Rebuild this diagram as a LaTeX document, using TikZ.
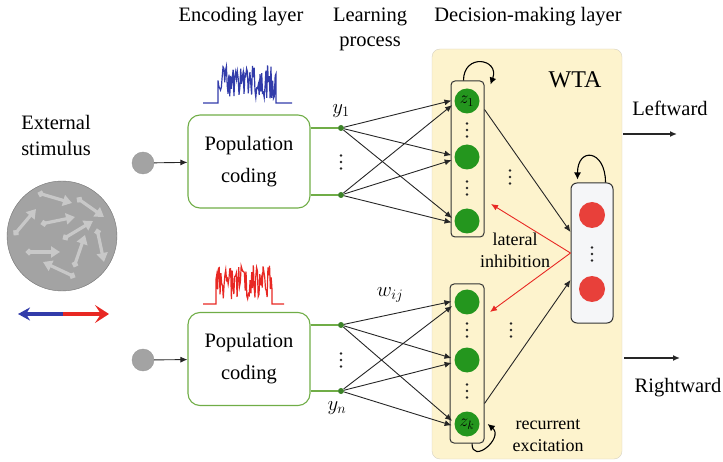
\documentclass[tikz,border=0pt]{standalone}
\usepackage{fontspec}
\setmainfont{Liberation Serif}
\usetikzlibrary{arrows.meta,positioning,calc}
\definecolor{codegreen}{RGB}{112,173,71}
\definecolor{tapgreen}{RGB}{60,130,40}
\definecolor{neurongreen}{RGB}{36,150,30}
\definecolor{neuronred}{RGB}{232,64,58}
\definecolor{wtafill}{RGB}{253,243,205}
\definecolor{wtaline}{RGB}{215,210,195}
\definecolor{outfill}{RGB}{245,246,248}
\definecolor{spikeblue}{RGB}{50,60,170}
\definecolor{spikered}{RGB}{232,40,35}
\definecolor{stimgray}{RGB}{163,163,163}
\definecolor{stimarrow}{RGB}{200,200,200}
\tikzset{dotcol/.pic={\fill[black!85] (0,6.5) circle (1.3) (0,0) circle (1.3) (0,-6.5) circle (1.3);}}

\begin{document}
\begin{tikzpicture}[
  x=1pt, y=1pt,
  font=\fontsize{20.5}{25}\selectfont,
  arrow/.style={-{Latex[length=7,width=6]}, line width=0.9, draw=black!85},
  feed/.style={arrow, shorten >=3},
  inhib/.style={-{Latex[length=7,width=6]}, line width=0.9, draw=spikered},
  loopy/.style={-{Latex[length=7,width=7]}, line width=1.1},
  coder/.style={draw=codegreen, line width=1.1, rounded corners=12, minimum width=122,
    minimum height=93, align=center, font=\fontsize{20.5}{32}\selectfont},
  unitcol/.style={draw=black!80, line width=1, rounded corners=4, minimum width=33},
  neuron/.style={circle, fill=neurongreen, minimum size=25, inner sep=0, font=\fontsize{18}{18}\selectfont},
  outneuron/.style={circle, fill=neuronred, minimum size=26, inner sep=0},
  tap/.style={circle, fill=tapgreen, minimum size=6, inner sep=0},
  input/.style={circle, fill=stimgray, draw=gray!80, minimum size=22, inner sep=0},
  stim/.style={{Circle[length=6,width=6]}-{Triangle[length=9,width=11]}, line width=3.2, draw=stimarrow},
  small/.style={align=center, font=\fontsize{18}{22}\selectfont}
]
\useasboundingbox (0,0) rectangle (723,461);

% headings
\node (enclabel) at (241,444) {Encoding layer};
\node[align=center] (learnlabel) at (370,432) {Learning\\process};
\node (declabel) at (528,444) {Decision-making layer};
\node[align=center, font=\fontsize{20.5}{26}\selectfont] (extlabel) at (56,326) {External\\stimulus};

% stimulus with moving dots
\node[circle, fill=stimgray, draw=gray!110, minimum size=110] (stimulus) at (62,225) {};
\draw[stim] (38,268) -- (72,258);
\draw[stim] (77,263) -- (104,244);
\draw[stim] (14,226) -- (36,252);
\draw[stim] (41,237) -- (75,244);
\draw[stim] (63,222) -- (93,240);
\draw[stim] (97,232) -- (104,199);
\draw[stim] (26,209) -- (60,209);
\draw[stim] (74,194) -- (85,226);
\draw[stim] (75,184) -- (43,199);

\coordinate (dirmid) at (63,147);
\coordinate (dirleft) at (18,147);
\coordinate (dirright) at (109,147);
\draw[-{Stealth[length=12,width=13]}, line width=3.5, spikeblue] (dirmid) -- (dirleft);
\draw[-{Stealth[length=14,width=18,inset=6]}, line width=3.8, spikered] (dirmid) -- (dirright);

% encoding layer
\node[input] (inup) at (143,298) {};
\node[input] (indown) at (143,101) {};
\node[coder] (codeup) at (249,299.5) {Population\\coding};
\node[coder] (codedown) at (249,102) {Population\\coding};
\draw[arrow] (inup) -- (codeup);
\draw[arrow] (indown) -- (codedown);

\pgfmathsetseed{11}
\draw[spikeblue, line width=1.2] (203,358) -- (218,358)
  -- plot[domain=218:276, samples=70] (\x, {380+18*rand}) -- (276,358) -- (292,358);
\draw[spikered, line width=1.2] (203,157) -- (216,157)
  -- plot[domain=216:272, samples=70] (\x, {179+17*rand}) -- (272,157) -- (284,157);

\node[tap] (ya) at (341,333) {};
\node[tap] (yb) at (341,266) {};
\node[tap] (yc) at (341,136) {};
\node[tap] (yd) at (341,70) {};
\draw[codegreen, line width=1.1] (codeup.east |- ya) -- (ya);
\draw[codegreen, line width=1.1] (codeup.east |- yb) -- (yb);
\draw[codegreen, line width=1.1] (codedown.east |- yc) -- (yc);
\draw[codegreen, line width=1.1] (codedown.east |- yd) -- (yd);
\pic at (341,299) {dotcol};
\pic at (341,101) {dotcol};
\node[above=4pt of ya] (ylabel1) {$y_1$};
\node[below=4pt of yd, xshift=-4] (ylabeln) {$y_n$};
\node (wlabel) at (390,166) {$w_{ij}$};

% decision-making layer
\node[draw=wtaline, fill=wtafill, rounded corners=8, minimum width=190, minimum height=410] (wta) at (527,207) {};
\node[font=\fontsize{24}{24}\selectfont] (wtalabel) at (575,381) {WTA};

\node[unitcol, minimum height=156] (colup) at (467.5,302) {};
\node[unitcol, minimum width=34, minimum height=159] (coldown) at (467,97.5) {};
\node[unitcol, fill=outfill, minimum width=42, minimum height=140, rounded corners=6] (wtaout) at (592,208) {};

\node[neuron] (z1) at (467,360) {$z_1$};
\node[neuron] (u2) at (467,304) {};
\node[neuron] (u3) at (467,240) {};
\node[neuron] (v1) at (467,159) {};
\node[neuron] (v2) at (467,101) {};
\node[neuron] (zk) at (467,37) {$z_k$};
\pic at (467,331) {dotcol};
\pic at (467,273) {dotcol};
\pic at (467,131) {dotcol};
\pic at (467,70) {dotcol};
\pic at (510,284) {dotcol};
\pic at (511,131) {dotcol};

\node[outneuron] (r1) at (592,246) {};
\node[outneuron] (r2) at (592,172) {};
\pic at (592,207) {dotcol};

% learning: all-to-all feed-forward weights
\draw[feed] (ya) -- (z1.175);
\draw[feed] (ya) -- (u2.175);
\draw[feed] (ya) -- (u3.175);
\draw[feed] (yb) -- (z1.190);
\draw[feed] (yb) -- (u2.190);
\draw[feed] (yb) -- (u3.190);
\draw[feed] (yc) -- (v1.175);
\draw[feed] (yc) -- (v2.175);
\draw[feed] (yc) -- (zk.175);
\draw[feed] (yd) -- (v1.190);
\draw[feed] (yd) -- (v2.190);
\draw[feed] (yd) -- (zk.190);

\draw[arrow] ([yshift=-29]colup.north east) -- ([yshift=21]wtaout.west);
\draw[arrow] ([yshift=40]coldown.south east) -- ([yshift=-27]wtaout.west);

\coordinate (inhup) at (491,257);
\coordinate (inhdown) at (490,149);
\draw[inhib] (wtaout.west) -- (inhup);
\draw[inhib] (wtaout.west) -- (inhdown);
\node[small] (inhlabel) at (515,211) {lateral\\inhibition};
\node[small] (exclabel) at (548,25) {recurrent\\excitation};

% self loops
\draw[loopy] ([xshift=-4]colup.north) to[out=90, in=70, looseness=2.6] ([shift={(6,-4)}]colup.north east);
\draw[loopy] ([xshift=-8]wtaout.north east) to[out=90, in=90, looseness=3] ([shift={(7,3)}]wtaout.north west);
\draw[loopy] ([xshift=5]coldown.south) to[out=-90, in=-40, looseness=2.2] ([xshift=8]zk.east);

% decisions
\node (leftlabel) at (670,353) {Leftward};
\node (rightlabel) at (678,73) {Rightward};
\coordinate (leftstart) at (623,327);
\coordinate (leftend) at (677,327);
\coordinate (rightstart) at (624,103);
\coordinate (rightend) at (680,103);
\draw[arrow, line width=1.6] (leftstart) -- (leftend);
\draw[arrow, line width=1.6] (rightstart) -- (rightend);

\end{tikzpicture}
\end{document}
